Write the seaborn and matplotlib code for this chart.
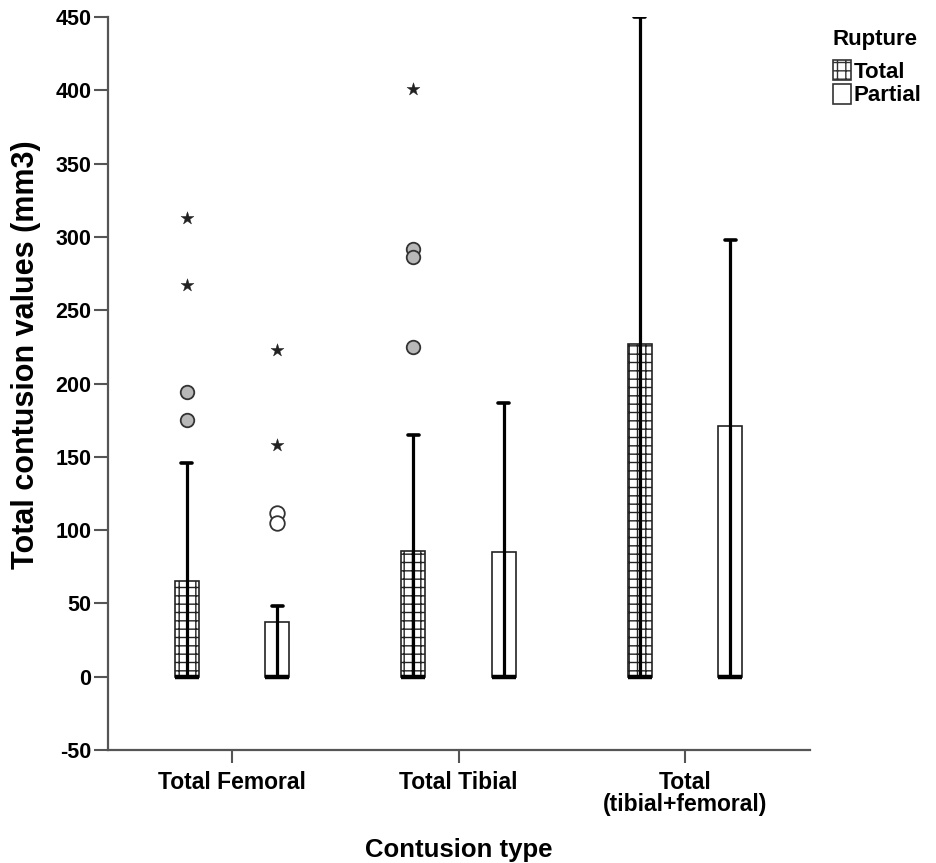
import numpy as np
import pandas as pd
import matplotlib
matplotlib.use("Agg")
import matplotlib.pyplot as plt
import seaborn as sns
from matplotlib.patches import Patch

# ---------------- data ----------------
categories = ["Total Femoral", "Total Tibial", "Total\n(tibial+femoral)"]
ruptures = ["Total", "Partial"]
# lower quartile, median and lower whisker are all 0 in every group
q3_total = [65, 86, 227]
q3_partial = [37, 85, 171]
whisker_total = [146, 165, 450]
whisker_partial = [48, 187, 298]
outliers_total = [[194, 175], [292, 286, 225], []]
outliers_partial = [[112, 105], [], []]
extremes_total = [[313, 267], [401], []]
extremes_partial = [[223, 158], [], []]
y_ticks = [-50, 0, 50, 100, 150, 200, 250, 300, 350, 400, 450]

# ---------------- style ----------------
sns.set_theme(style="white")
plt.rcParams["font.family"] = ["Liberation Sans", "DejaVu Sans"]
plt.rcParams["text.color"] = "black"
plt.rcParams["axes.labelcolor"] = "black"
plt.rcParams["xtick.color"] = "black"
plt.rcParams["ytick.color"] = "black"
plt.rcParams["hatch.color"] = "#2a2a2a"
plt.rcParams["hatch.linewidth"] = 1.0

W, H = 936, 863
fig = plt.figure(figsize=(W / 100, H / 100), dpi=100)
ax = fig.add_axes([108 / W, (H - 750) / H, (810 - 108) / W, (750 - 17) / H])

offset = 0.2
box_w = 0.106
cap_w = 0.05

groups = {
    "Total": (q3_total, whisker_total, outliers_total, extremes_total, -offset),
    "Partial": (q3_partial, whisker_partial, outliers_partial, extremes_partial, offset),
}

flier_rows = []
for name, (q3s, whis, outs, exts, off) in groups.items():
    stats = []
    for i in range(len(categories)):
        stats.append(dict(med=0, q1=0, q3=q3s[i], whislo=0, whishi=whis[i], fliers=[]))
        for v in outs[i]:
            flier_rows.append(dict(x=i + off, y=v, kind="out", rupture=name))
        for v in exts[i]:
            flier_rows.append(dict(x=i + off, y=v, kind="ext", rupture=name))
    positions = [i + off for i in range(len(categories))]
    ax.bxp(stats, positions=positions, widths=box_w, patch_artist=True,
           showfliers=False, manage_ticks=False, capwidths=cap_w,
           boxprops=dict(facecolor="white", edgecolor="#222222", linewidth=1.2,
                         hatch="++" if name == "Total" else None),
           medianprops=dict(color="black", linewidth=3.2, solid_capstyle="butt"),
           whiskerprops=dict(color="black", linewidth=2.3),
           capprops=dict(color="black", linewidth=2.6))
    # SPSS draws the whisker line through the box from the median
    ax.vlines(positions, [0] * len(positions), q3s, color="black", linewidth=2.3, zorder=3)

fl = pd.DataFrame(flier_rows)
out_t = fl[(fl.kind == "out") & (fl.rupture == "Total")]
out_p = fl[(fl.kind == "out") & (fl.rupture == "Partial")]
ext = fl[fl.kind == "ext"]
sns.scatterplot(data=out_t, x="x", y="y", ax=ax, marker="o", s=95,
                facecolor="#b8b8b8", edgecolor="#333333", linewidth=1.3, zorder=4)
sns.scatterplot(data=out_p, x="x", y="y", ax=ax, marker="o", s=110,
                facecolor="white", edgecolor="#333333", linewidth=1.3, zorder=4)
sns.scatterplot(data=ext, x="x", y="y", ax=ax, marker="*", s=95,
                color="#222222", edgecolor="#222222", linewidth=0.3, zorder=4)

# ---------------- axes ----------------
ax.set_xlim((108 - 232) / 226.5, (810 - 232) / 226.5)
ax.set_ylim(-50, 450)
ax.set_yticks(y_ticks)
ax.set_yticklabels([str(t) for t in y_ticks], fontsize=15.5, fontweight="bold")
ax.set_xticks(range(len(categories)))
ax.set_xticklabels(categories, fontsize=16.5, fontweight="bold", linespacing=0.95)
for s in ["top", "right"]:
    ax.spines[s].set_visible(False)
for s in ["left", "bottom"]:
    ax.spines[s].set_color("#555555")
    ax.spines[s].set_linewidth(1.6)
ax.tick_params(axis="y", direction="out", length=10, width=1.5, color="#555555", pad=2, left=True)
ax.tick_params(axis="x", direction="out", length=9, width=1.5, color="#555555", pad=6, bottom=True)
ax.set_xlabel("Contusion type", fontsize=18.5, fontweight="bold", labelpad=16)
ax.set_ylabel("Total contusion values (mm3)", fontsize=22, fontweight="bold")
ax.yaxis.set_label_coords((41 - 108) / 702, (750 - 355) / 733)
ax.grid(False)

# ---------------- legend ----------------
fig.text(833 / W, 1 - 40 / H, "Rupture", fontsize=16, fontweight="bold",
         ha="left", va="center")
handles = [Patch(facecolor="white", edgecolor="#333333", hatch="++", linewidth=1.2),
           Patch(facecolor="white", edgecolor="#333333", linewidth=1.2)]
leg = fig.legend(handles, ruptures, loc="upper left",
                 bbox_to_anchor=(833 / W, 1 - 60 / H), frameon=False,
                 prop=dict(size=16, weight="bold"), handlelength=0.8, handleheight=1.0,
                 handletextpad=0.12, labelspacing=0.05, borderpad=0, borderaxespad=0)

fig.savefig("out.png", dpi=100)
